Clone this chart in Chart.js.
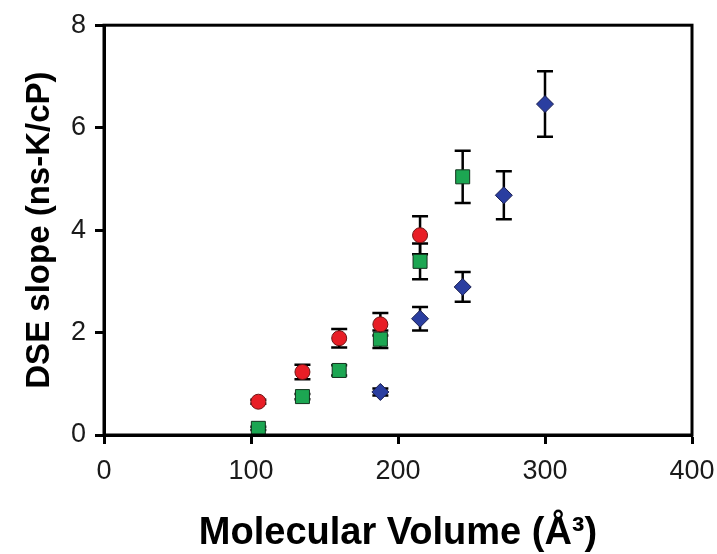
<!DOCTYPE html>
<html lang="en">
<head>
    <meta charset="UTF-8">
    <script src="https://cdn.jsdelivr.net/npm/chart.js"></script>
    <title>DSE slope vs Molecular Volume</title>
    <style>
        html, body { margin: 0; padding: 0; background: #fff; }
        #wrap { width: 717px; height: 554px; }
    </style>
</head>
<body>
    <div id="wrap"><canvas id="dseChart" width="717" height="554"></canvas></div>

<script>
    // values
    const redX = [105, 135, 160, 188, 215];
    const redY = [0.65, 1.23, 1.89, 2.16, 3.90];
    const redErr = [0.04, 0.14, 0.18, 0.22, 0.37];

    const greenX = [105, 135, 160, 188, 215, 244];
    const greenY = [0.13, 0.75, 1.26, 1.87, 3.39, 5.04];
    const greenErr = [0.03, 0.05, 0.10, 0.17, 0.35, 0.51];

    const blueX = [188, 215, 244, 272, 300];
    const blueY = [0.84, 2.27, 2.89, 4.68, 6.46];
    const blueErr = [0.07, 0.23, 0.29, 0.47, 0.64];

    const xTicks = [0, 100, 200, 300, 400];
    const yTicks = [0, 2, 4, 6, 8];

    function points(xs, ys, errs) {
        return xs.map((x, i) => ({ x: x, y: ys[i], err: errs[i] }));
    }

    // error bars, drawn under the markers
    const errorBars = {
        id: 'errorBars',
        beforeDatasetsDraw(chart) {
            const ctx = chart.ctx;
            const xs = chart.scales.x, ys = chart.scales.y;
            ctx.save();
            ctx.strokeStyle = '#000';
            ctx.lineWidth = 2.5;
            chart.data.datasets.forEach(ds => {
                ds.data.forEach(p => {
                    const px = xs.getPixelForValue(p.x);
                    const top = ys.getPixelForValue(p.y + p.err);
                    const bot = ys.getPixelForValue(p.y - p.err);
                    ctx.beginPath();
                    ctx.moveTo(px, top); ctx.lineTo(px, bot);
                    ctx.moveTo(px - 8, top); ctx.lineTo(px + 8, top);
                    ctx.moveTo(px - 8, bot); ctx.lineTo(px + 8, bot);
                    ctx.stroke();
                });
            });
            ctx.restore();
        }
    };

    // closed frame round the plot
    const frame = {
        id: 'frame',
        afterDraw(chart) {
            const a = chart.chartArea, ctx = chart.ctx;
            ctx.save();
            ctx.strokeStyle = '#000';
            ctx.lineWidth = 3;
            ctx.strokeRect(a.left, a.top, a.right - a.left, a.bottom - a.top);
            ctx.restore();
        }
    };

    const fam = 'Liberation Sans, Arial, sans-serif';
    const tickFont = { family: fam, size: 27 };

    const ctx = document.getElementById('dseChart').getContext('2d');
    new Chart(ctx, {
        type: 'scatter',
        data: {
            datasets: [
                {
                    label: 'red',
                    data: points(redX, redY, redErr),
                    pointStyle: 'circle',
                    pointRadius: 7.5,
                    backgroundColor: 'rgb(232, 30, 38)',
                    borderColor: 'rgb(110, 20, 20)',
                    borderWidth: 1
                },
                {
                    label: 'green',
                    data: points(greenX, greenY, greenErr),
                    pointStyle: 'rect',
                    pointRadius: 9.9,
                    backgroundColor: 'rgb(28, 166, 82)',
                    borderColor: 'rgb(20, 50, 30)',
                    borderWidth: 1
                },
                {
                    label: 'blue',
                    data: points(blueX, blueY, blueErr),
                    pointStyle: 'rectRot',
                    pointRadius: 8.5,
                    backgroundColor: 'rgb(42, 62, 160)',
                    borderColor: 'rgb(25, 30, 80)',
                    borderWidth: 1
                }
            ]
        },
        options: {
            responsive: false,
            animation: false,
            layout: { padding: { left: 0, right: 25, top: 23, bottom: 0 } },
            plugins: {
                legend: { display: false },
                tooltip: { enabled: false }
            },
            scales: {
                x: {
                    type: 'linear',
                    min: 0,
                    max: 400,
                    afterBuildTicks: s => { s.ticks = xTicks.map(v => ({ value: v })); },
                    afterFit: s => { s.height = 119; s.paddingLeft = 0; s.paddingRight = 0; },
                    grid: { drawOnChartArea: false, drawTicks: true, tickLength: 9, tickWidth: 3, tickColor: '#000' },
                    border: { display: true, width: 3, color: '#000' },
                    ticks: { font: tickFont, color: '#1a1a1a', padding: 11, maxRotation: 0 },
                    title: {
                        display: true, text: 'Molecular Volume (Å³)', color: '#000',
                        font: { family: fam, size: 38, weight: 'bold', lineHeight: 1.1 },
                        padding: { top: 0, bottom: 0 }
                    }
                },
                y: {
                    type: 'linear',
                    min: 0,
                    max: 8,
                    afterBuildTicks: s => { s.ticks = yTicks.map(v => ({ value: v })); },
                    afterFit: s => { s.width = 104; },
                    grid: { drawOnChartArea: false, drawTicks: true, tickLength: 9, tickWidth: 3, tickColor: '#000' },
                    border: { display: true, width: 3, color: '#000' },
                    ticks: { font: tickFont, color: '#1a1a1a', padding: 9 },
                    title: {
                        display: true, text: 'DSE slope (ns-K/cP)', color: '#000',
                        font: { family: fam, size: 33, weight: 'bold' },
                        padding: { top: 20, bottom: 0 }
                    }
                }
            }
        },
        plugins: [errorBars, frame]
    });
</script>
</body>
</html>
